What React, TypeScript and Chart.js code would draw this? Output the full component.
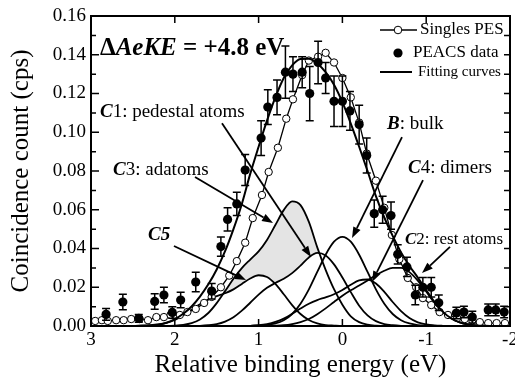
import React, { useEffect, useRef } from "react";
import { Chart, registerables } from "chart.js";

Chart.register(...registerables);

const FONT = '"Liberation Serif", "Times New Roman", Times, serif';

// Common energy grid for the fitting curves (relative binding energy, eV)
const gridX = [3.0, 2.9, 2.8, 2.7, 2.6, 2.5, 2.4, 2.3, 2.2, 2.1, 2.0, 1.9, 1.8, 1.7, 1.6, 1.5, 1.4, 1.3, 1.2, 1.1, 1.0, 0.9, 0.8, 0.7, 0.6, 0.5, 0.4, 0.3, 0.2, 0.1, 0.0, -0.1, -0.2, -0.3, -0.4, -0.5, -0.6, -0.7, -0.8, -0.9, -1.0, -1.1, -1.2, -1.3, -1.4, -1.5, -1.6, -1.7, -1.8, -1.9, -2.0];

// Fitting curves
const fitTotal = [0, 0, 0, 0, 0, 0, 0.0002, 0.0004, 0.0008, 0.0017, 0.0035, 0.0063, 0.0101, 0.0152, 0.0215, 0.0292, 0.0386, 0.05, 0.063, 0.0785, 0.0925, 0.106, 0.118, 0.128, 0.1345, 0.1378, 0.138, 0.1355, 0.131, 0.1245, 0.1155, 0.1045, 0.0925, 0.08, 0.067, 0.056, 0.0465, 0.038, 0.031, 0.025, 0.0185, 0.0123, 0.0073, 0.0039, 0.0019, 0.0008, 0.0003, 0.0001, 0, 0, 0];
const compB = [0, 0, 0, 0, 0, 0, 0, 0, 0, 0, 0, 0, 0, 0, 0, 0, 0, 0, 0, 0.0001, 0.0002, 0.0005, 0.0013, 0.003, 0.0062, 0.0115, 0.0189, 0.0279, 0.0368, 0.0435, 0.046, 0.0435, 0.0368, 0.0279, 0.0189, 0.0115, 0.0062, 0.003, 0.0013, 0.0005, 0.0002, 0.0001, 0, 0, 0, 0, 0, 0, 0, 0, 0];
const compC1 = [0, 0, 0, 0, 0, 0, 0, 0, 0, 0, 0, 0, 0, 0.0001, 0.0004, 0.001, 0.0023, 0.0045, 0.0079, 0.012, 0.0162, 0.0197, 0.0222, 0.0244, 0.0273, 0.0312, 0.0354, 0.0377, 0.0364, 0.0318, 0.025, 0.0175, 0.0105, 0.0055, 0.0025, 0.001, 0.0004, 0.0001, 0, 0, 0, 0, 0, 0, 0, 0, 0, 0, 0, 0, 0];
const compC2 = [0, 0, 0, 0, 0, 0, 0, 0, 0, 0, 0, 0, 0, 0, 0, 0, 0, 0, 0, 0, 0, 0.0001, 0.0002, 0.0004, 0.001, 0.002, 0.0036, 0.0061, 0.0091, 0.0124, 0.0156, 0.0184, 0.0209, 0.0235, 0.0262, 0.0285, 0.03, 0.03, 0.0278, 0.0234, 0.0178, 0.0119, 0.0072, 0.0039, 0.0019, 0.0008, 0.0003, 0.0001, 0, 0, 0];
const compC3 = [0, 0, 0, 0, 0, 0, 0, 0, 0, 0, 0.0002, 0.0006, 0.0015, 0.0034, 0.0067, 0.0118, 0.018, 0.0244, 0.0299, 0.0343, 0.0385, 0.0444, 0.0521, 0.0598, 0.0643, 0.0624, 0.0537, 0.0406, 0.029, 0.019, 0.011, 0.005, 0.002, 0.0007, 0.0002, 0, 0, 0, 0, 0, 0, 0, 0, 0, 0, 0, 0, 0, 0, 0, 0];
const compC4 = [0, 0, 0, 0, 0, 0, 0, 0, 0, 0, 0, 0, 0, 0, 0, 0, 0, 0, 0, 0.0001, 0.0004, 0.001, 0.0021, 0.0038, 0.0063, 0.009, 0.0115, 0.0134, 0.0148, 0.0164, 0.0186, 0.0213, 0.0236, 0.024, 0.0219, 0.0176, 0.0124, 0.0077, 0.0041, 0.0019, 0.0008, 0.0003, 0.0001, 0, 0, 0, 0, 0, 0, 0, 0];
const compC5 = [0, 0, 0, 0, 0, 0, 0.0001, 0.0003, 0.0007, 0.0016, 0.0031, 0.0055, 0.0083, 0.0112, 0.0137, 0.0154, 0.0169, 0.0189, 0.0217, 0.0245, 0.0262, 0.0253, 0.0217, 0.0164, 0.0108, 0.0062, 0.0031, 0.0014, 0.0005, 0.0002, 0, 0, 0, 0, 0, 0, 0, 0, 0, 0, 0, 0, 0, 0, 0, 0, 0, 0, 0, 0, 0];

// Singles PES (open circles)
const pesX = [2.95, 2.87, 2.8, 2.7, 2.61, 2.52, 2.42, 2.32, 2.22, 2.13, 2.05, 1.94, 1.85, 1.75, 1.65, 1.56, 1.45, 1.35, 1.26, 1.16, 1.07, 0.96, 0.88, 0.77, 0.67, 0.59, 0.48, 0.4, 0.29, 0.2, 0.1, 0.0, -0.1, -0.2, -0.29, -0.4, -0.5, -0.59, -0.68, -0.78, -0.88, -0.96, -1.06, -1.16, -1.26, -1.37, -1.46, -1.55, -1.64, -1.74, -1.84, -1.94];
const pesY = [0.0026, 0.003, 0.0026, 0.003, 0.003, 0.0036, 0.0036, 0.003, 0.0046, 0.0046, 0.0057, 0.0057, 0.0072, 0.0088, 0.0119, 0.015, 0.02, 0.026, 0.0335, 0.043, 0.0557, 0.0676, 0.0795, 0.092, 0.107, 0.117, 0.1295, 0.137, 0.139, 0.141, 0.136, 0.128, 0.118, 0.105, 0.089, 0.075, 0.061, 0.047, 0.0345, 0.0248, 0.02, 0.0144, 0.0108, 0.0072, 0.0057, 0.0041, 0.0036, 0.003, 0.002, 0.0015, 0.0015, 0.0015];

// PEACS data (filled circles with error bars)
const peacsX = [2.82, 2.62, 2.43, 2.24, 2.13, 2.03, 1.93, 1.75, 1.56, 1.45, 1.37, 1.26, 1.16, 0.97, 0.89, 0.78, 0.68, 0.59, 0.48, 0.39, 0.29, 0.2, 0.1, 0.0, -0.09, -0.2, -0.29, -0.38, -0.48, -0.58, -0.66, -0.77, -0.87, -0.96, -1.06, -1.15, -1.36, -1.45, -1.55, -1.74, -1.83, -1.93];
const peacsY = [0.006, 0.0124, 0.004, 0.0127, 0.016, 0.007, 0.0134, 0.0227, 0.018, 0.041, 0.055, 0.063, 0.0805, 0.097, 0.113, 0.118, 0.131, 0.13, 0.131, 0.12, 0.136, 0.128, 0.116, 0.116, 0.111, 0.104, 0.088, 0.058, 0.06, 0.057, 0.037, 0.0305, 0.016, 0.02, 0.02, 0.012, 0.0067, 0.0072, 0.0046, 0.0083, 0.0083, 0.0072];
const peacsErr = [0.003, 0.004, 0.002, 0.004, 0.004, 0.003, 0.004, 0.005, 0.004, 0.005, 0.006, 0.006, 0.008, 0.009, 0.009, 0.009, 0.0135, 0.009, 0.008, 0.014, 0.011, 0.008, 0.013, 0.013, 0.01, 0.01, 0.009, 0.007, 0.007, 0.007, 0.005, 0.005, 0.005, 0.005, 0.005, 0.004, 0.003, 0.003, 0.003, 0.003, 0.003, 0.003];

// Axis ticks
const xTickValues = [3, 2, 1, 0, -1, -2];
const yTickValues = [0, 0.02, 0.04, 0.06, 0.08, 0.1, 0.12, 0.14, 0.16];
const yMinorValues = [0.01, 0.03, 0.05, 0.07, 0.09, 0.11, 0.13, 0.15];

type Part = [string, string];
const annotations: { parts: Part[]; x: number; y: number; size: number }[] = [
  { parts: [["\u0394", "bold"], ["AeKE", "italic bold"], [" = +4.8 eV", "bold"]], x: 2.893, y: 0.14, size: 25 },
  { parts: [["C", "italic bold"], ["1: pedestal atoms", "normal"]], x: 2.893, y: 0.108, size: 19 },
  { parts: [["C", "italic bold"], ["3: adatoms", "normal"]], x: 2.737, y: 0.0779, size: 19 },
  { parts: [["C5", "italic bold"]], x: 2.32, y: 0.0444, size: 19 },
  { parts: [["B", "italic bold"], [": bulk", "normal"]], x: -0.532, y: 0.1017, size: 19 },
  { parts: [["C", "italic bold"], ["4: dimers", "normal"]], x: -0.783, y: 0.079, size: 19 },
  { parts: [["C", "italic bold"], ["2: rest atoms", "normal"]], x: -0.747, y: 0.0423, size: 17 },
];

const arrows = [
  { x0: 1.437, y0: 0.1047, x1: 0.375, y1: 0.0356 },
  { x0: 1.759, y0: 0.0769, x1: 0.828, y1: 0.0531 },
  { x0: 2.01, y0: 0.0413, x1: 1.15, y1: 0.0237 },
  { x0: -0.711, y0: 0.0975, x1: -0.115, y1: 0.0454 },
  { x0: -0.962, y0: 0.0753, x1: -0.353, y1: 0.0227 },
  { x0: -1.284, y0: 0.0408, x1: -0.95, y1: 0.0273 },
];

const legendLabels = ["Singles PES", "PEACS data", "Fitting curves"];

const pts = (xs: number[], ys: number[]) => xs.map((x, i) => ({ x, y: ys[i] }));

const curve = (ys: number[]) => ({
  data: pts(gridX, ys),
  showLine: true,
  borderColor: "#000",
  borderWidth: 1.8,
  pointRadius: 0,
  cubicInterpolationMode: "monotone" as const,
  fill: false as const,
});

const decorPlugin = {
  id: "decor",
  beforeDatasetDraw(chart: any, args: any) {
    if (args.index !== 0) return;
    const { ctx, scales } = chart;
    const x = scales.x;
    const y = scales.y;
    ctx.save();
    ctx.strokeStyle = "#000";
    ctx.lineWidth = 1.5;
    ctx.beginPath();
    peacsX.forEach((vx, i) => {
      const px = x.getPixelForValue(vx);
      const t = y.getPixelForValue(peacsY[i] + peacsErr[i]);
      const b = y.getPixelForValue(peacsY[i] - peacsErr[i]);
      ctx.moveTo(px, t);
      ctx.lineTo(px, b);
      ctx.moveTo(px - 4, t);
      ctx.lineTo(px + 4, t);
      ctx.moveTo(px - 4, b);
      ctx.lineTo(px + 4, b);
    });
    ctx.stroke();
    ctx.restore();
  },
  afterDraw(chart: any) {
    const { ctx, chartArea: ca, scales } = chart;
    const x = scales.x;
    const y = scales.y;
    ctx.save();
    ctx.strokeStyle = "#000";
    ctx.fillStyle = "#000";
    // frame
    ctx.lineWidth = 2;
    ctx.strokeRect(ca.left, ca.top, ca.right - ca.left, ca.bottom - ca.top);
    // ticks
    ctx.lineWidth = 1.5;
    ctx.beginPath();
    xTickValues.forEach((v) => {
      const px = x.getPixelForValue(v);
      ctx.moveTo(px, ca.bottom);
      ctx.lineTo(px, ca.bottom - 7);
      ctx.moveTo(px, ca.top);
      ctx.lineTo(px, ca.top + 7);
    });
    yTickValues.forEach((v) => {
      const py = y.getPixelForValue(v);
      ctx.moveTo(ca.left, py);
      ctx.lineTo(ca.left + 8, py);
      ctx.moveTo(ca.right, py);
      ctx.lineTo(ca.right - 6, py);
    });
    yMinorValues.forEach((v) => {
      const py = y.getPixelForValue(v);
      ctx.moveTo(ca.left, py);
      ctx.lineTo(ca.left + 5, py);
      ctx.moveTo(ca.right, py);
      ctx.lineTo(ca.right - 6, py);
    });
    ctx.stroke();

    // arrows
    ctx.lineWidth = 1.8;
    arrows.forEach((a) => {
      const p0x = x.getPixelForValue(a.x0);
      const p0y = y.getPixelForValue(a.y0);
      const p1x = x.getPixelForValue(a.x1);
      const p1y = y.getPixelForValue(a.y1);
      const ang = Math.atan2(p1y - p0y, p1x - p0x);
      const L = 11;
      const W = 4;
      const bx = p1x - L * Math.cos(ang);
      const by = p1y - L * Math.sin(ang);
      ctx.beginPath();
      ctx.moveTo(p0x, p0y);
      ctx.lineTo(bx, by);
      ctx.stroke();
      ctx.beginPath();
      ctx.moveTo(p1x, p1y);
      ctx.lineTo(bx + W * Math.sin(ang), by - W * Math.cos(ang));
      ctx.lineTo(bx - W * Math.sin(ang), by + W * Math.cos(ang));
      ctx.closePath();
      ctx.fill();
    });

    // labels
    ctx.textAlign = "left";
    ctx.textBaseline = "alphabetic";
    annotations.forEach((an) => {
      let cx = x.getPixelForValue(an.x);
      const cy = y.getPixelForValue(an.y);
      an.parts.forEach(([text, style]) => {
        ctx.font = `${style} ${an.size}px ${FONT}`;
        ctx.fillText(text, cx, cy);
        cx += ctx.measureText(text).width;
      });
    });

    // legend
    const r = ca.right;
    const t = ca.top;
    ctx.textBaseline = "middle";
    ctx.lineWidth = 1.5;
    ctx.beginPath();
    ctx.moveTo(r - 130, t + 14);
    ctx.lineTo(r - 93, t + 14);
    ctx.stroke();
    ctx.beginPath();
    ctx.arc(r - 112, t + 14, 3.8, 0, Math.PI * 2);
    ctx.fillStyle = "#fff";
    ctx.fill();
    ctx.lineWidth = 1;
    ctx.stroke();
    ctx.fillStyle = "#000";
    ctx.font = `17px ${FONT}`;
    ctx.fillText(legendLabels[0], r - 90, t + 14);
    ctx.beginPath();
    ctx.arc(r - 112, t + 37, 4.6, 0, Math.PI * 2);
    ctx.fill();
    ctx.fillText(legendLabels[1], r - 97, t + 37);
    ctx.lineWidth = 2;
    ctx.beginPath();
    ctx.moveTo(r - 130, t + 56);
    ctx.lineTo(r - 98, t + 56);
    ctx.stroke();
    ctx.font = `15px ${FONT}`;
    ctx.fillText(legendLabels[2], r - 92, t + 56);
    ctx.restore();
  },
};

export default function App() {
  const ref = useRef<HTMLCanvasElement>(null);
  useEffect(() => {
    const canvas = ref.current;
    if (!canvas) return;
    const lowerBound = gridX.map((_, i) =>
      Math.max(compB[i], compC1[i], compC2[i], compC4[i], compC5[i])
    );
    const chart = new Chart(canvas, {
      type: "scatter",
      data: {
        datasets: [
          {
            label: "PEACS data",
            data: pts(peacsX, peacsY),
            showLine: false,
            pointRadius: 4.6,
            pointBackgroundColor: "#000",
            pointBorderColor: "#000",
            pointBorderWidth: 0,
          },
          {
            label: "fit",
            data: pts(gridX, fitTotal),
            showLine: true,
            borderColor: "#000",
            borderWidth: 2,
            pointRadius: 0,
            cubicInterpolationMode: "monotone",
            fill: false,
          },
          {
            label: "Singles PES",
            data: pts(pesX, pesY),
            showLine: true,
            borderColor: "#000",
            borderWidth: 1.3,
            tension: 0,
            pointRadius: 3.7,
            pointBackgroundColor: "#fff",
            pointBorderColor: "#000",
            pointBorderWidth: 1,
          },
          curve(compB),
          curve(compC1),
          curve(compC2),
          curve(compC4),
          curve(compC5),
          {
            ...curve(compC3),
            fill: { target: 9, above: "rgb(228,228,228)", below: "rgba(0,0,0,0)" },
          },
          {
            data: pts(gridX, lowerBound),
            showLine: true,
            borderWidth: 0,
            borderColor: "rgba(0,0,0,0)",
            pointRadius: 0,
            cubicInterpolationMode: "monotone",
            fill: false,
          },
        ] as any,
      },
      options: {
        animation: false,
        responsive: false,
        events: [],
        layout: { padding: { left: 0, right: 5, top: 16, bottom: 0 } },
        plugins: { legend: { display: false }, tooltip: { enabled: false } },
        scales: {
          x: {
            type: "linear",
            reverse: true,
            min: -2,
            max: 3,
            afterBuildTicks: (s: any) => {
              s.ticks = xTickValues.map((v) => ({ value: v }));
            },
            ticks: {
              color: "#000",
              font: { family: FONT, size: 19 },
              padding: 3,
              maxRotation: 0,
              autoSkip: false,
              callback: (v: any) => String(v),
            },
            grid: { display: false, drawTicks: false },
            border: { display: false },
            title: {
              display: true,
              text: "Relative binding energy (eV)",
              color: "#000",
              font: { family: FONT, size: 25 },
              padding: { top: 0, bottom: 1 },
            },
            afterFit: (s: any) => {
              s.height = 55;
              s.paddingLeft = 0;
              s.paddingRight = 0;
            },
          },
          y: {
            type: "linear",
            min: 0,
            max: 0.16,
            afterBuildTicks: (s: any) => {
              s.ticks = yTickValues.map((v) => ({ value: v }));
            },
            ticks: {
              color: "#000",
              font: { family: FONT, size: 19 },
              padding: 5,
              autoSkip: false,
              callback: (v: any) => Number(v).toFixed(2),
            },
            grid: { display: false, drawTicks: false },
            border: { display: false },
            title: {
              display: true,
              text: "Coincidence count (cps)",
              color: "#000",
              font: { family: FONT, size: 25 },
              padding: { top: 6, bottom: 0 },
            },
            afterFit: (s: any) => {
              s.width = 91;
              s.paddingTop = 0;
              s.paddingBottom = 0;
            },
          },
        },
      } as any,
      plugins: [decorPlugin],
    });
    return () => chart.destroy();
  }, []);
  return (
    <div style={{ position: "fixed", left: 0, top: 0, width: 515, height: 381, background: "#fff" }}>
      <canvas ref={ref} width={515} height={381} style={{ display: "block", width: 515, height: 381 }} />
    </div>
  );
}
